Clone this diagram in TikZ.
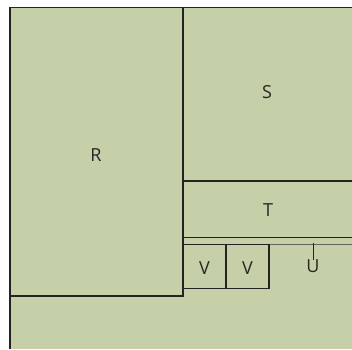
\documentclass[tikz,border=0pt]{standalone}
\usepackage{fontspec}
\setmainfont{Open Sans}
\usepackage{xcolor}
\usepackage{tikz}
\usetikzlibrary{positioning}
\definecolor{sage}{RGB}{197,208,168}
\definecolor{wall}{RGB}{35,35,35}
\definecolor{thinwall}{RGB}{100,100,95}

\begin{document}
\begin{tikzpicture}[
  x=1pt, y=-1pt,
  font=\fontsize{18}{21}\selectfont,
  wallline/.style={draw=wall, line width=1.1pt},
  softline/.style={draw=thinwall, line width=0.9pt},
  lbl/.style={inner sep=0pt, text=black!85}
]
\useasboundingbox (0,0) rectangle (352,349);
\fill[sage] (10,7) rectangle (352,349);
% outline and rooms
\draw[wallline] (10,349) -- (10,7.5) -- (352,7.5);
\draw[wallline] (10,296) -| (183,7.5);
\draw[wallline] (183,181) -- (352,181);
\draw[wallline] (183,237.5) -- (352,237.5);
\draw[softline] (269,244.5) -- (352,244.5);
\draw[wallline] (183,244.5) rectangle (226,288.5);
\draw[wallline] (226,244.5) rectangle (269,288.5);
% labels
\node[lbl] (r) at (96,155) {R};
\node[lbl] (s) at (267,92) {S};
\node[lbl] (t) at (268,210) {T};
\node[lbl] (v1) at (204.5,268) {V};
\node[lbl] (v2) at (247.5,268) {V};
\node[lbl] (u) at (313,266) {U};
\coordinate (utop) at (313,243);
\draw[wallline, line width=0.9pt] (utop) -- ([yshift=-1pt]u.north);
\end{tikzpicture}
\end{document}
